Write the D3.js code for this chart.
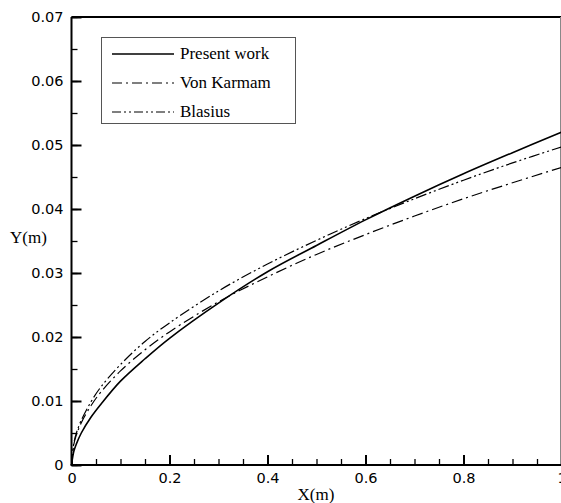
<!DOCTYPE html>
<html>
<head>
<meta charset="utf-8">
<script src="https://cdn.jsdelivr.net/npm/d3@7"></script>
<style>
  html, body { margin: 0; padding: 0; background: #fff; }
  svg { display: block; }
</style>
</head>
<body>
<svg id="chart" width="561" height="503"></svg>
<script>
// ---- data ----
const xValues   = [0, 0.005, 0.01, 0.02, 0.04, 0.06, 0.1, 0.15, 0.2, 0.3, 0.4, 0.5, 0.6, 0.7, 0.8, 0.9, 1.0];
const presentWork = [0, 0.0022, 0.0033, 0.0050, 0.0075, 0.0095, 0.0131, 0.0166, 0.0198, 0.0253, 0.0302, 0.0343, 0.0383, 0.0420, 0.0455, 0.0488, 0.0520];
const vonKarman   = [0, 0.0033, 0.0047, 0.0066, 0.0093, 0.0114, 0.0147, 0.0180, 0.0208, 0.0255, 0.0294, 0.0329, 0.0360, 0.0389, 0.0416, 0.0441, 0.0465];
const blasius     = [0, 0.0035, 0.0050, 0.0070, 0.0099, 0.0122, 0.0157, 0.0193, 0.0222, 0.0272, 0.0314, 0.0351, 0.0385, 0.0416, 0.0445, 0.0472, 0.0497];
const seriesNames = ["Present work", "Von Karmam", "Blasius"];
const xTicks = [0, 0.2, 0.4, 0.6, 0.8, 1];
const yTicks = [0, 0.01, 0.02, 0.03, 0.04, 0.05, 0.06, 0.07];
const xMinorTicks = d3.range(0, 1.0001, 0.05);
const yMinorTicks = d3.range(0, 0.07001, 0.005);

const svg = d3.select("#chart");
const L = 71.5, R = 561.5, T = 17, B = 465;

const x = d3.scaleLinear().domain([0, 1]).range([L, R]);
const y = d3.scaleLinear().domain([0, 0.07]).range([B, T]);

const tickFont = "'DejaVu Sans', sans-serif";
const serif = "'Liberation Serif', 'Times New Roman', serif";

// clip
svg.append("defs").append("clipPath").attr("id", "clip")
  .append("rect").attr("x", L).attr("y", T).attr("width", R - L).attr("height", B - T);

// frame (top & right)
svg.append("line").attr("x1", L).attr("x2", R).attr("y1", T).attr("y2", T)
  .attr("stroke", "#000").attr("stroke-width", 2);
svg.append("line").attr("x1", 560.5).attr("x2", 560.5).attr("y1", T).attr("y2", B)
  .attr("stroke", "#888").attr("stroke-width", 1);

// minor ticks
svg.append("g").attr("transform", `translate(${L},0)`)
  .call(d3.axisLeft(y).tickValues(yMinorTicks).tickSize(-6).tickFormat(""))
  .call(g => g.select(".domain").remove())
  .selectAll("line").attr("stroke", "#000").attr("stroke-width", 1.3);
svg.append("g").attr("transform", `translate(0,${B})`)
  .call(d3.axisBottom(x).tickValues(xMinorTicks).tickSize(-6).tickFormat(""))
  .call(g => g.select(".domain").remove())
  .selectAll("line").attr("stroke", "#000").attr("stroke-width", 1.3);

// major axes
const yAxis = svg.append("g").attr("transform", `translate(${L},0)`)
  .call(d3.axisLeft(y).tickValues(yTicks).tickSize(-10).tickPadding(8)
        .tickFormat(d => d === 0 ? "0" : d3.format(".2f")(d)));
yAxis.select(".domain").attr("stroke", "#000").attr("stroke-width", 2).attr("d", `M0,${T}V${B}`);
yAxis.selectAll(".tick line").attr("stroke", "#000").attr("stroke-width", 2);
yAxis.selectAll("text").attr("font-family", tickFont).attr("font-size", 14.5).attr("fill", "#000");

const xAxis = svg.append("g").attr("transform", `translate(0,${B})`)
  .call(d3.axisBottom(x).tickValues(xTicks).tickSize(-10).tickPadding(8)
        .tickFormat(d => d === 0 ? "0" : d === 1 ? "1" : d3.format(".1f")(d)));
xAxis.select(".domain").attr("stroke", "#000").attr("stroke-width", 2).attr("d", `M${L - 1},0H${R}`);
xAxis.selectAll(".tick line").attr("stroke", "#000").attr("stroke-width", 2);
xAxis.selectAll("text").attr("font-family", tickFont).attr("font-size", 14.5).attr("fill", "#000");

// axis titles
svg.append("text").attr("x", 316).attr("y", 500).attr("text-anchor", "middle")
  .attr("font-family", serif).attr("font-size", 17).text("X(m)");
svg.append("text").attr("x", 10).attr("y", 243)
  .attr("font-family", serif).attr("font-size", 17).text("Y(m)");

// curves
const line = d3.line().x(d => x(d[0])).y(d => y(d[1])).curve(d3.curveCatmullRom.alpha(0.5));
const styles = [
  { data: presentWork, dash: null, width: 1.6 },
  { data: vonKarman, dash: "11,4,2,4", width: 1.2 },
  { data: blasius, dash: "11,3,2,3,2,3", width: 1.2 }
];
const plot = svg.append("g").attr("clip-path", "url(#clip)");
styles.forEach(s => {
  plot.append("path")
    .datum(xValues.map((xv, i) => [xv, s.data[i]]))
    .attr("d", line)
    .attr("fill", "none")
    .attr("stroke", "#000")
    .attr("stroke-width", s.width)
    .attr("stroke-dasharray", s.dash);
});

// legend
const lg = svg.append("g");
lg.append("rect").attr("x", 101.5).attr("y", 37.5).attr("width", 194).attr("height", 86)
  .attr("fill", "#fff").attr("stroke", "#555").attr("stroke-width", 1);
const rowY = [54, 83, 112];
const legendDash = [null, "10,4,2,4", "9,3,2,3,2,3"];
seriesNames.forEach((name, i) => {
  lg.append("line").attr("x1", 112).attr("x2", 174).attr("y1", rowY[i]).attr("y2", rowY[i])
    .attr("stroke", "#000").attr("stroke-width", i === 0 ? 1.6 : 1.1)
    .attr("stroke-dasharray", legendDash[i]);
  lg.append("text").attr("x", 180).attr("y", rowY[i] + 5)
    .attr("font-family", serif).attr("font-size", 17).text(name);
});
</script>
</body>
</html>
